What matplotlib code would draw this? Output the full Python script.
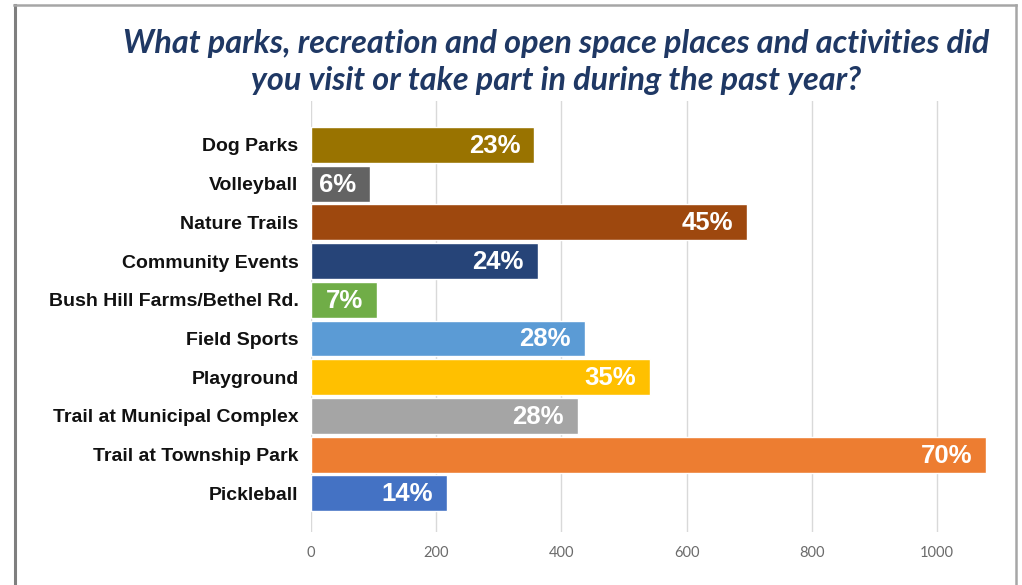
import matplotlib
matplotlib.use("Agg")
import matplotlib.pyplot as plt
from matplotlib.lines import Line2D

categories = ["Dog Parks", "Volleyball", "Nature Trails", "Community Events",
              "Bush Hill Farms/Bethel Rd.", "Field Sports", "Playground",
              "Trail at Municipal Complex", "Trail at Township Park", "Pickleball"]
counts = [357, 94, 696, 362, 106, 437, 541, 426, 1079, 217]
pct_labels = ["23%", "6%", "45%", "24%", "7%", "28%", "35%", "28%", "70%", "14%"]
colors = ["#997300", "#636363", "#9E480E", "#264478", "#70AD47",
          "#5B9BD5", "#FFC000", "#A5A5A5", "#ED7D31", "#4472C4"]
x_ticks = [0, 200, 400, 600, 800, 1000]
title = "What parks, recreation and open space places and activities did\nyou visit or take part in during the past year?"

W, H = 1022, 585
fig = plt.figure(figsize=(W / 100, H / 100), dpi=100)
fig.patch.set_facecolor("white")

px = 0.626  # pixels per unit
left_px, top_px, bottom_px = 311, 101, 532
xmax = 1100
ax = fig.add_axes([left_px / W, 1 - bottom_px / H, xmax * px / W, (bottom_px - top_px) / H])

y = list(range(len(categories)))
ax.barh(y, counts, height=0.93, color=colors, edgecolor="white", linewidth=1, zorder=3)
ax.set_xlim(0, xmax)
pitch = 38.7
ax.set_ylim((bottom_px - 145) / pitch, (top_px - 145) / pitch)

ax.set_yticks(y)
ax.set_yticklabels(categories, fontfamily="Liberation Sans", fontweight="bold",
                   fontsize=14, color="#111111")
ax.tick_params(axis="y", length=0, pad=9)
ax.set_xticks(x_ticks)
ax.set_xticklabels([str(t) for t in x_ticks], fontfamily="Lato", fontsize=10.5, color="#6B6B6B")
ax.tick_params(axis="x", length=0, pad=10)
ax.grid(axis="x", color="#D9D9D9", linewidth=1, zorder=0)
for s in ax.spines.values():
    s.set_visible(False)

for yi, c, lab in zip(y, counts, pct_labels):
    ax.annotate(lab, xy=(c, yi), xytext=(-14, -1), textcoords="offset pixels",
                ha="right", va="center", color="white", fontsize=18.5,
                fontfamily="Liberation Sans", fontweight="bold", zorder=4)

fig.text(556 / W, 1 - 62 / H, title, ha="center", va="center", fontfamily="Lato",
         fontweight="bold", fontstyle="italic", fontsize=23.3, color="#1F3864",
         linespacing=1.36)

# slide frame
fig.add_artist(Line2D([15 / W, 15 / W], [0, 1 - 5 / H], transform=fig.transFigure,
                      color="#7F7F7F", linewidth=2.2))
fig.add_artist(Line2D([14 / W, 1016 / W], [1 - 5 / H, 1 - 5 / H], transform=fig.transFigure,
                      color="#A6A6A6", linewidth=1.8))
fig.add_artist(Line2D([1016 / W, 1016 / W], [0, 1 - 5 / H], transform=fig.transFigure,
                      color="#A6A6A6", linewidth=1.8))

fig.savefig("out.png", dpi=100, facecolor="white")
